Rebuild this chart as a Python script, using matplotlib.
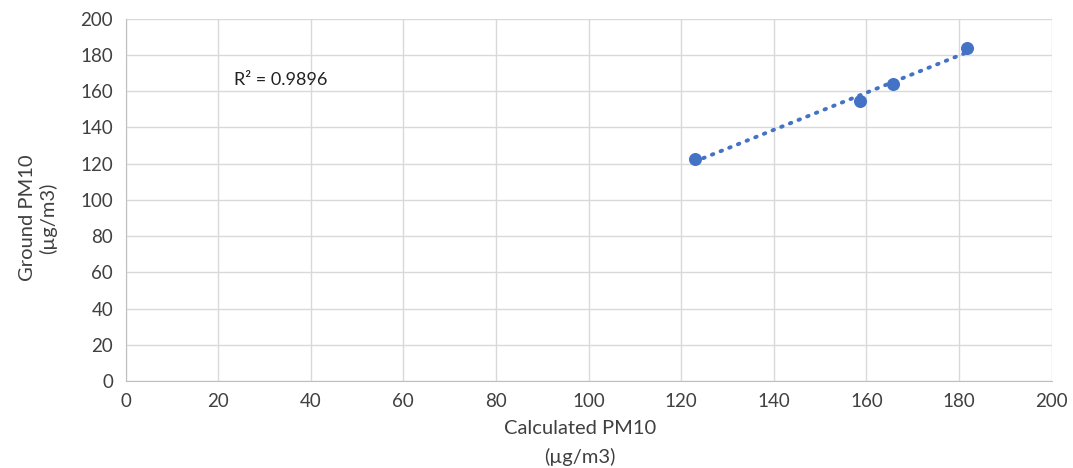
import numpy as np
import matplotlib
matplotlib.use("Agg")
import matplotlib.pyplot as plt

plt.rcParams['font.family'] = ['Lato', 'DejaVu Sans']

# Calculated vs ground PM10 (µg/m3)
calc_pm10 = np.array([122.9, 158.7, 165.8, 181.8])
ground_pm10 = np.array([122.6, 154.6, 164.2, 184.1])
r2_text = "R² = 0.9896"
ticks = list(range(0, 201, 20))

blue = '#4472C4'
fig = plt.figure(figsize=(10.73, 4.68), dpi=100)
ax = fig.add_axes([0.117, 0.186, 0.863, 0.774])

# Linear trendline over the data range
slope, intercept = np.polyfit(calc_pm10, ground_pm10, 1)
xs = np.array([calc_pm10.min(), calc_pm10.max()])
ax.plot(xs, slope * xs + intercept, color=blue, linewidth=2.8,
        linestyle=(0, (0.4, 2.0)), dash_capstyle='round', zorder=3)

ax.scatter(calc_pm10, ground_pm10, s=70, color=blue, zorder=4)

ax.text(23.5, 166, r2_text, ha='left', va='center', fontsize=13, color='#222222')

ax.set_xlim(0, 200)
ax.set_ylim(0, 200)
ax.set_xticks(ticks)
ax.set_yticks(ticks)
ax.tick_params(length=0, labelsize=13.5, colors='#404040', pad=9)
ax.grid(True, color='#D9D9D9', linewidth=1)
ax.set_axisbelow(True)
for side in ['top', 'right']:
    ax.spines[side].set_visible(False)
for side in ['left', 'bottom']:
    ax.spines[side].set_color('#BFBFBF')

ax.set_xlabel("Calculated PM10\n(µg/m3)", fontsize=14.5, color='#404040', linespacing=1.75)
ax.set_ylabel("Ground PM10\n(µg/m3)", fontsize=14.5, color='#404040')
ax.xaxis.set_label_coords(0.491, -0.108)
ax.yaxis.set_label_coords(-0.074, 0.45)

fig.savefig("out.png", dpi=100)
